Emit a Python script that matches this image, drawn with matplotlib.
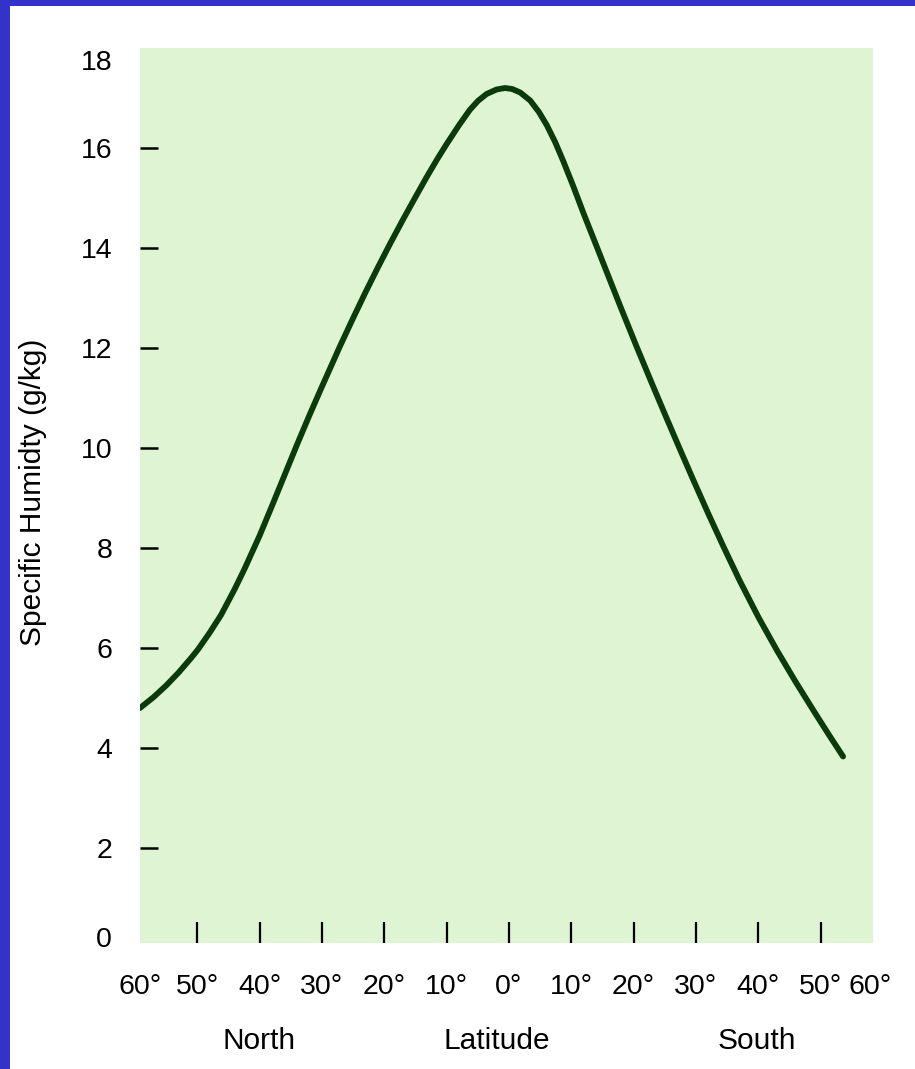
import numpy as np
import matplotlib
matplotlib.use("Agg")
import matplotlib.pyplot as plt
from matplotlib.patches import Rectangle

plt.rcParams['font.family'] = ['Liberation Sans', 'DejaVu Sans']

# latitude (negative = North, positive = South) vs specific humidity
latitude = [-59.2, -57, -55, -53, -51, -49.9, -48, -46.2, -44, -42.4, -40, -38, -36, -34,
            -32, -30, -27.1, -25, -23, -21, -19.1, -17, -15, -13.2, -11.5, -10, -8, -6.3,
            -5, -3.6, -2, -0.64, 0.5, 1.8, 3.4, 4.8, 6.05, 7.4, 8.7, 10.3, 12, 14.1, 16,
            18, 20.5, 23, 25, 27.2, 29.5, 32, 34.4, 37, 40, 43, 46, 49, 51.5, 53.6]
humidity = [4.80, 5.02, 5.25, 5.51, 5.80, 5.97, 6.31, 6.66, 7.18, 7.59, 8.25, 8.85, 9.46, 10.07,
            10.66, 11.23, 12.04, 12.60, 13.12, 13.62, 14.08, 14.57, 15.02, 15.42, 15.78, 16.08, 16.46, 16.76,
            16.94, 17.08, 17.17, 17.20, 17.18, 17.11, 16.95, 16.72, 16.46, 16.12, 15.74, 15.24, 14.68, 14.02, 13.42,
            12.79, 12.02, 11.27, 10.68, 10.04, 9.38, 8.68, 8.03, 7.35, 6.62, 5.95, 5.32, 4.72, 4.23, 3.83]

x_ticks = [-59.1, -50, -40, -30, -20, -10, 0, 10, 20, 30, 40, 50, 57.9]
x_labels = ["60°", "50°", "40°", "30°", "20°", "10°", "0°", "10°", "20°", "30°", "40°", "50°", "60°"]
y_ticks = [0.22, 2, 4, 6, 8, 10, 12, 14, 16, 17.76]
y_labels = ["0", "2", "4", "6", "8", "10", "12", "14", "16", "18"]

fig = plt.figure(figsize=(9.15, 10.69), dpi=100)
fig.patch.set_facecolor('white')

# blue frame on left and top
fig.patches.append(Rectangle((0, 0), 10 / 915, 1, transform=fig.transFigure,
                             facecolor='#3333cc', edgecolor='none'))
fig.patches.append(Rectangle((0, 1 - 6 / 1069), 1, 6 / 1069, transform=fig.transFigure,
                             facecolor='#3333cc', edgecolor='none'))

ax = fig.add_axes([140 / 915, 1 - 943 / 1069, 733 / 915, 895 / 1069])
ax.set_facecolor('#def4d2')
for s in ax.spines.values():
    s.set_visible(False)

ax.plot(latitude, humidity, color='#0b3a0b', linewidth=4.2,
        solid_capstyle='round', solid_joinstyle='round')

ax.set_xlim(-59.2, 58.4)
ax.set_ylim(0.1, 18)

ax.set_xticks(x_ticks)
ax.set_xticklabels(x_labels)
ax.set_yticks(y_ticks)
ax.set_yticklabels(y_labels)

ax.tick_params(axis='y', direction='in', length=13, width=1.8, pad=20, labelsize=20.5)
ax.tick_params(axis='x', direction='in', length=15, width=1.6, pad=22, labelsize=20.5)

# no tick marks for the end labels
for t in (ax.xaxis.get_major_ticks()[0], ax.xaxis.get_major_ticks()[-1],
          ax.yaxis.get_major_ticks()[0], ax.yaxis.get_major_ticks()[-1]):
    t.tick1line.set_visible(False)

ax.set_ylabel("Specific Humidty (g/kg)", fontsize=21.5)
ax.yaxis.set_label_coords(-(140 - 47) / 733, (943 - 492) / 895)

fig.text(259 / 915, 1 - 1041 / 1069, "North", ha='center', va='center', fontsize=21.5)
fig.text(497 / 915, 1 - 1041 / 1069, "Latitude", ha='center', va='center', fontsize=21.5)
fig.text(757 / 915, 1 - 1041 / 1069, "South", ha='center', va='center', fontsize=21.5)

fig.savefig("out.png", dpi=100)
